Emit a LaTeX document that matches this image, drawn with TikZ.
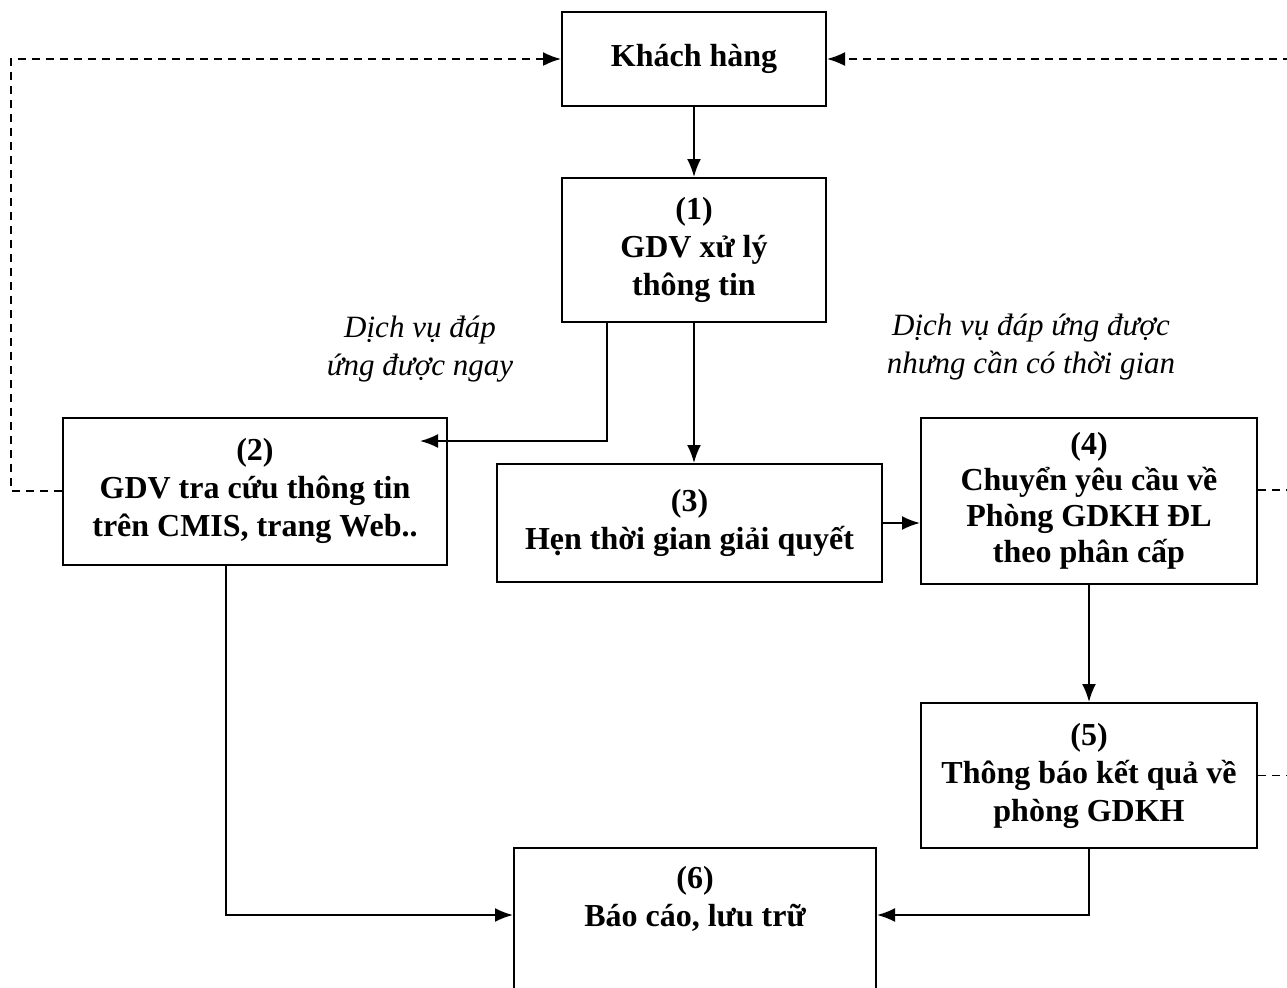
\documentclass[tikz,border=0pt]{standalone}
\usepackage{fontspec}
\setmainfont{Liberation Serif}
\usetikzlibrary{arrows.meta, positioning}

\begin{document}
\begin{tikzpicture}[
    x=0.5pt, y=-0.5pt,
    box/.style={draw, rectangle, line width=1pt, align=center, font=\fontsize{16}{19}\selectfont\bfseries},
    note/.style={align=center, font=\fontsize{15.5}{19}\selectfont\itshape},
    arrow/.style={-{Latex[length=9pt, width=7pt]}, line width=1pt},
    dasharrow/.style={-{Latex[length=9pt, width=7pt]}, line width=0.9pt, dash pattern=on 4pt off 3pt}
]
\clip (0,0) rectangle (1287,987);

% Khách hàng
\node[box, minimum width=132pt, minimum height=47pt] (kh) at (694,59) {Khách hàng};

% Các bước xử lý
\node[box, minimum width=132pt, minimum height=72pt] (b1) at (694,250) {(1)\\GDV xử lý\\thông tin};
\node[box, minimum width=192pt, minimum height=73.5pt] (b2) at (255,491) {(2)\\GDV tra cứu thông tin\\trên CMIS, trang Web..};
\node[box, minimum width=192.5pt, minimum height=59pt] (b3) at (689.5,523) {(3)\\Hẹn thời gian giải quyết};
\node[box, minimum width=168pt, minimum height=83pt, font=\fontsize{16}{18}\selectfont\bfseries] (b4) at (1089,501) {(4)\\Chuyển yêu cầu về\\Phòng GDKH ĐL\\theo phân cấp};
\node[box, minimum width=168pt, minimum height=72.5pt] (b5) at (1089,775.5) {(5)\\Thông báo kết quả về\\phòng GDKH};
\node[box, anchor=north, minimum width=181pt, inner ysep=9pt, text depth=48pt] (b6) at (695,847) {(6)\\Báo cáo, lưu trữ};

% Ghi chú
\node[note] (n1) at (420,349) {Dịch vụ đáp\\ứng được ngay};
\node[note] (n2) at (1031,347) {Dịch vụ đáp ứng được\\nhưng cần có thời gian};

% Điểm phụ
\coordinate (k2) at (420,441);
\coordinate (y6) at (0,915);

% Mũi tên
\draw[arrow] (kh) -- (b1);
\draw[arrow] ([xshift=23pt]b1.south west) |- (k2);
\draw[arrow] (b1.south) -- (b1.south |- b3.north);
\draw[arrow] (b3.east) -- (b3.east -| b4.west);
\draw[arrow] (b4.south) -- (b5.north);
\draw[arrow] (b5.south) |- (b6.east |- y6);
\draw[arrow] ([xshift=-14.5pt]b2.south) |- (b6.west |- y6);

% Phản hồi về khách hàng
\draw[dasharrow] (b2.west) -- ++(-51,0) |- (kh.west);
\draw[dasharrow] ([yshift=5.5pt]b4.east) -- ++(60,0) |- (kh.east);
\draw[dash pattern=on 4pt off 3pt, line width=0.9pt] (b5.east) -- ++(60,0);

\end{tikzpicture}
\end{document}
